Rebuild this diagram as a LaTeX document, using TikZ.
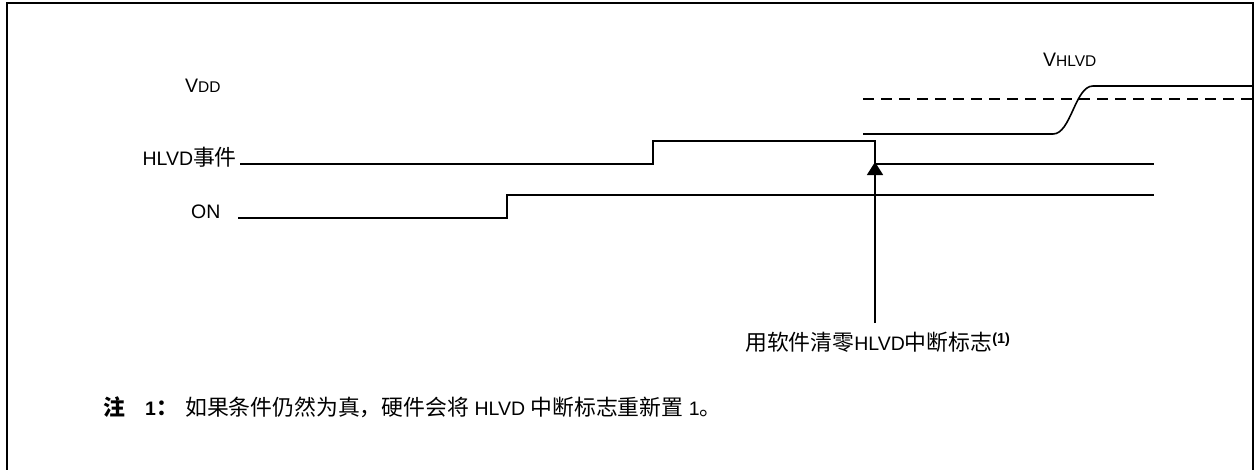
\documentclass[tikz,border=0pt]{standalone}
\usepackage{fontspec}
\setmainfont{Liberation Sans}
\newfontfamily\cjk[Scale=1.12]{Noto Sans CJK SC}
\usetikzlibrary{arrows.meta}
\begin{document}
\begin{tikzpicture}[x=1pt,y=-1pt,
  sig/.style={line width=1.6pt},
  frame/.style={line width=2pt},
  lbl/.style={inner sep=0pt, font=\fontsize{19.5}{22}\selectfont}]
\useasboundingbox (0,0) rectangle (1257,469);
\newcommand{\smallcaps}{\fontsize{15.5}{18}\selectfont}
\newcommand{\noteref}{\raisebox{6.5pt}{\fontsize{14.5}{16}\selectfont\bfseries (1)}}
% frame
\draw[frame] (7,472) -- (7,3) -- (1253,3) -- (1253,472);
% labels
\node[lbl, anchor=base west] (vdd) at (185,92) {V{\smallcaps DD}};
\node[lbl, anchor=base east] (ev) at (237,165) {HLVD{\cjk 事件}};
\node[lbl, anchor=base west] (on) at (191,218) {ON};
\node[lbl, anchor=base west] (vh) at (1043,66) {V{\smallcaps HLVD}};
\node[lbl, anchor=base west] (clr) at (745,350) {{\cjk 用软件清零}HLVD{\cjk 中断标志}\noteref};
\node[lbl, anchor=base west] (n0) at (103,415) {{\cjk\bfseries 注}};
\node[lbl, anchor=base west] (n1) at (145,415) {\bfseries 1{\cjk\bfseries ：}};
\node[lbl, anchor=base west] (n2) at (185,415) {{\cjk 如果条件仍然为真，硬件会将} HLVD {\cjk 中断标志重新置} 1{\cjk 。}};
% coordinates
\coordinate (e0) at (240,164);
\coordinate (e1) at (653,164);
\coordinate (e2) at (653,141);
\coordinate (e3) at (875,141);
\coordinate (e4) at (875,164);
\coordinate (e5) at (1154,164);
\coordinate (o0) at (238,218);
\coordinate (o1) at (507,218);
\coordinate (o2) at (507,195);
\coordinate (o3) at (1154,195);
\coordinate (v0) at (863,134);
\coordinate (v1) at (1053,134);
\coordinate (v2) at (1093,86);
\coordinate (v3) at (1253,86);
\coordinate (d0) at (863,99);
\coordinate (d1) at (1253,99);
\coordinate (a0) at (875,323);
\coordinate (a1) at (875,162);
% HLVD event
\draw[sig] (e0) -- (e1) -- (e2) -- (e3) -- (e4) -- (e5);
% ON
\draw[sig] (o0) -- (o1) -- (o2) -- (o3);
% VDD
\draw[sig] (v0) -- (v1) .. controls (1071,134) and (1075,86) .. (v2) -- (v3);
\draw[sig, dash pattern=on 11pt off 7pt] (d0) -- (d1);
% arrow
\draw[sig, -{Triangle[width=16pt,length=13pt]}] (a0) -- (a1);
\end{tikzpicture}
\end{document}
